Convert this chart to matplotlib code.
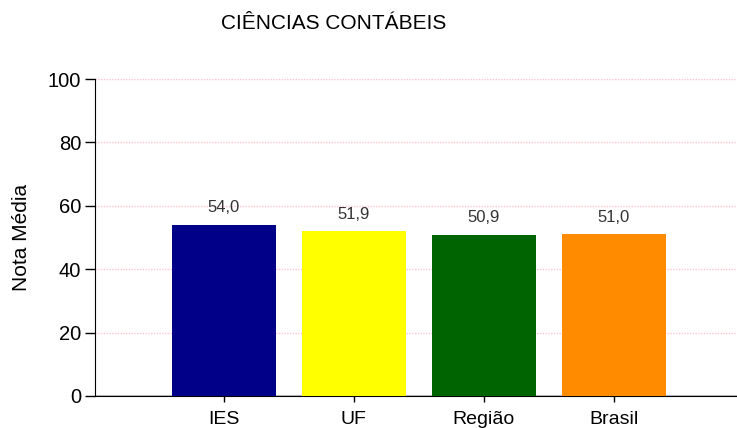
import matplotlib
matplotlib.use("Agg")
import matplotlib.pyplot as plt

categories = ["IES", "UF", "Região", "Brasil"]
values = [54.0, 51.9, 50.9, 51.0]
colors = ["#000088", "#ffff00", "#006400", "#ff8c00"]
yticks = [0, 20, 40, 60, 80, 100]

plt.rcParams['font.family'] = ['Liberation Sans', 'DejaVu Sans']

fig = plt.figure(figsize=(7.37, 4.28), dpi=100)
ax = fig.add_axes([0.129, 0.0748, 0.871, 0.7406])

x = list(range(len(categories)))
ax.bar(x, values, width=0.8, color=colors, zorder=3)
for xi, v in zip(x, values):
    ax.annotate(f"{v:.1f}".replace(".", ","), (xi, v), xytext=(0, 7),
                textcoords="offset points", ha="center", va="bottom",
                fontsize=12, color="#333333", zorder=4)

ax.set_xlim(-0.99, 3.95)
ax.set_ylim(0, 100)
ax.set_yticks(yticks)
ax.set_yticklabels([str(t) for t in yticks], fontsize=14.5)
ax.set_xticks(x)
ax.set_xticklabels(categories, fontsize=14)
ax.tick_params(axis='y', length=7, width=1, pad=3)
ax.tick_params(axis='x', length=4, width=1, pad=7)
ax.grid(axis='y', color='#ffc4d0', linestyle=(0, (1, 1)), linewidth=1.0, zorder=0)
ax.axhline(0, color='#bbbbbb', linewidth=1.5, zorder=2)
for s in ['top', 'right']:
    ax.spines[s].set_visible(False)
ax.spines['left'].set_color('black')
ax.spines['bottom'].set_color('black')
ax.set_ylabel("Nota Média", fontsize=15, labelpad=12)

fig.text(0.453, 0.946, "CIÊNCIAS CONTÁBEIS", ha="center", va="center", fontsize=15)

fig.savefig("out.png", dpi=100)
